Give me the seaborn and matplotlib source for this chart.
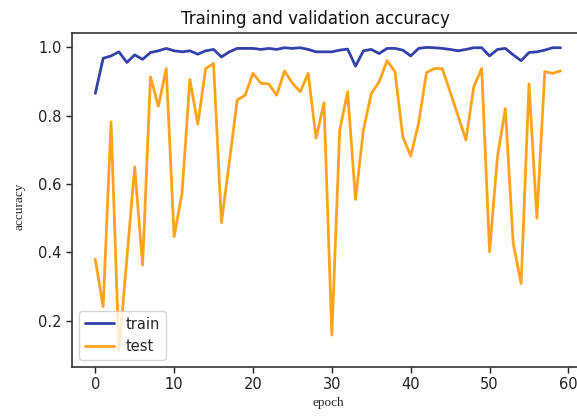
import numpy as np
import pandas as pd
import matplotlib
matplotlib.use("Agg")
import matplotlib.pyplot as plt
import seaborn as sns

epochs = list(range(60))

train_acc = [
    0.865, 0.968, 0.975, 0.987, 0.956, 0.978, 0.965, 0.985, 0.990, 0.997,
    0.990, 0.987, 0.990, 0.980, 0.990, 0.994, 0.972, 0.987, 0.997, 0.997,
    0.997, 0.994, 0.997, 0.994, 0.999, 0.997, 0.999, 0.994, 0.987, 0.987,
    0.987, 0.992, 0.995, 0.945, 0.990, 0.994, 0.982, 0.997, 0.997, 0.992,
    0.975, 0.997, 1.000, 0.999, 0.997, 0.994, 0.990, 0.994, 0.999, 0.999,
    0.975, 0.994, 0.997, 0.978, 0.961, 0.985, 0.987, 0.992, 0.999, 0.999,
]

test_acc = [
    0.380, 0.241, 0.782, 0.112, 0.380, 0.650, 0.363, 0.914, 0.828, 0.938,
    0.446, 0.573, 0.906, 0.775, 0.938, 0.953, 0.487, 0.665, 0.846, 0.860,
    0.924, 0.895, 0.893, 0.860, 0.931, 0.895, 0.870, 0.924, 0.734, 0.838,
    0.158, 0.758, 0.870, 0.555, 0.758, 0.865, 0.899, 0.961, 0.929, 0.738,
    0.682, 0.778, 0.926, 0.938, 0.938, 0.870, 0.800, 0.729, 0.885, 0.938,
    0.402, 0.680, 0.821, 0.426, 0.309, 0.893, 0.500, 0.929, 0.924, 0.931,
]

series_names = ["train", "test"]
series_colors = ["#3341aa", "#ffa31a"]

df = pd.DataFrame({
    "epoch": epochs * 2,
    "accuracy": train_acc + test_acc,
    "series": [series_names[0]] * len(epochs) + [series_names[1]] * len(epochs),
})

sns.set_theme(style="ticks")
plt.rcParams["font.family"] = ["DejaVu Sans"]

fig = plt.figure(figsize=(5.77, 4.17), dpi=100)
ax = fig.add_axes([0.1248, 0.1199, 0.887, 0.8017])

sns.lineplot(
    data=df, x="epoch", y="accuracy", hue="series",
    palette=dict(zip(series_names, series_colors)),
    linewidth=2.0, ax=ax, legend=True,
)

ax.set_xlim(-2.95, 61.95)
ax.set_ylim(0.0645, 1.043)
ax.set_xticks([0, 10, 20, 30, 40, 50, 60])
ax.set_yticks([0.2, 0.4, 0.6, 0.8, 1.0])
ax.tick_params(axis="both", labelsize=10.5, length=4, width=1, colors="#222222")

for sp in ax.spines.values():
    sp.set_color("#333333")
    sp.set_linewidth(1.2)

ax.set_title("Training and validation accuracy", fontsize=12, color="#111111", x=0.475)
ax.set_xlabel("epoch", family="Liberation Serif", fontsize=9.5, labelpad=3)
ax.set_ylabel("accuracy", family="Liberation Serif", fontsize=9.5)
ax.yaxis.set_label_coords(-0.09, 0.48)

handles, labels = ax.get_legend_handles_labels()
leg = ax.legend(handles, labels, loc="lower left", fontsize=10.5, frameon=True,
                handlelength=2.0, borderpad=0.4)
leg.get_frame().set_edgecolor("#cccccc")

fig.savefig("out.png", dpi=100)
